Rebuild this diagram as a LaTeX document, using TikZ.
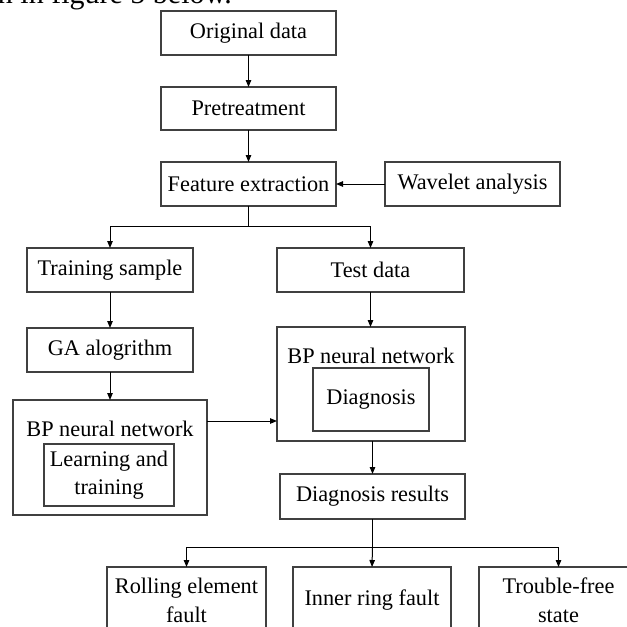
\documentclass[tikz,border=0pt]{standalone}
\usepackage{fontspec}
\setmainfont{Liberation Serif}
\usetikzlibrary{arrows.meta,calc}
\begin{document}
\begin{tikzpicture}[x=1pt,y=-1pt,
  every node/.style={font=\fontsize{22.3}{25}\selectfont, inner sep=0pt, outer sep=0pt},
  box/.style={draw=black!75, line width=1.3pt, fill=white, anchor=center},
  arr/.style={draw=black, line width=1pt, -{Triangle[length=7pt,width=5.5pt]}},
  ln/.style={draw=black, line width=1pt}]
\useasboundingbox (0,0) rectangle (627,627);
% clipped text line at top
\node[anchor=base west, font=\fontsize{30}{32}\selectfont] (top) at (-2,3) {n in figure 5 below.};
% boxes
\node[box, minimum width=175pt, minimum height=44pt] (orig) at (248.5,33) {Original data};
\node[box, minimum width=175pt, minimum height=43pt] (pre) at (248.5,108.5) {Pretreatment};
\node[box, minimum width=175pt, minimum height=44pt] (feat) at (248.5,184) {Feature extraction};
\node[box, minimum width=175pt, minimum height=44pt] (wave) at (472.5,184) {Wavelet analysis};
\node[box, minimum width=166pt, minimum height=44pt] (train) at (110,270) {Training sample};
\node[box, minimum width=187pt, minimum height=44pt] (test) at (370.5,270) {Test data};
\node[box, minimum width=166pt, minimum height=44pt] (ga) at (110,350) {GA alogrithm};
\node[box, minimum width=194pt, minimum height=115pt] (bpL) at (110,457.5) {};
\node (bpLt) at (110,429) {BP neural network};
\node[box, minimum width=130pt, minimum height=62pt, align=center, font=\fontsize{22.3}{28}\selectfont] (learn) at (109,475) {Learning and\\training};
\node[box, minimum width=188pt, minimum height=114pt] (bpR) at (371,384) {};
\node (bpRt) at (371,356) {BP neural network};
\node[box, minimum width=116pt, minimum height=63pt] (diag) at (371,399.5) {Diagnosis};
\node[box, minimum width=185pt, minimum height=45pt] (res) at (372.5,496.5) {Diagnosis results};
\node[box, minimum width=159pt, minimum height=66pt, align=center, font=\fontsize{22.3}{29}\selectfont] (roll) at (186.5,600) {Rolling element\\fault};
\node[box, minimum width=158pt, minimum height=66pt] (inner) at (372,600) {Inner ring fault};
\node[box, minimum width=159pt, minimum height=66pt, align=center, font=\fontsize{22.3}{29}\selectfont] (tf) at (558.5,600) {Trouble-free\\state};
% connectors
\draw[arr] (orig.south) -- (pre.north);
\draw[arr] (pre.south) -- (feat.north);
\draw[arr] (wave.west) -- (feat.east);
\coordinate (s1) at (248.5,226);
\draw[ln] (feat.south) -- (s1);
\draw[arr] (s1) -| (train.north);
\draw[arr] (s1) -| (test.north);
\draw[arr] (train.south) -- (ga.north);
\draw[arr] (ga.south) -- (bpL.north);
\coordinate (h1) at (0,421);
\draw[arr] (h1 -| bpL.east) -- (h1 -| bpR.west);
\draw[arr] (test.south) -- (test.south |- bpR.north);
\draw[arr] (bpR.south -| res.north) -- (res.north);
\coordinate (s2) at (372.5,547);
\draw[ln] (res.south) -- (s2);
\draw[arr] (s2) -| (roll.north);
\draw[arr] (s2) -- (inner.north);
\draw[arr] (s2) -| (tf.north);
\end{tikzpicture}
\end{document}
